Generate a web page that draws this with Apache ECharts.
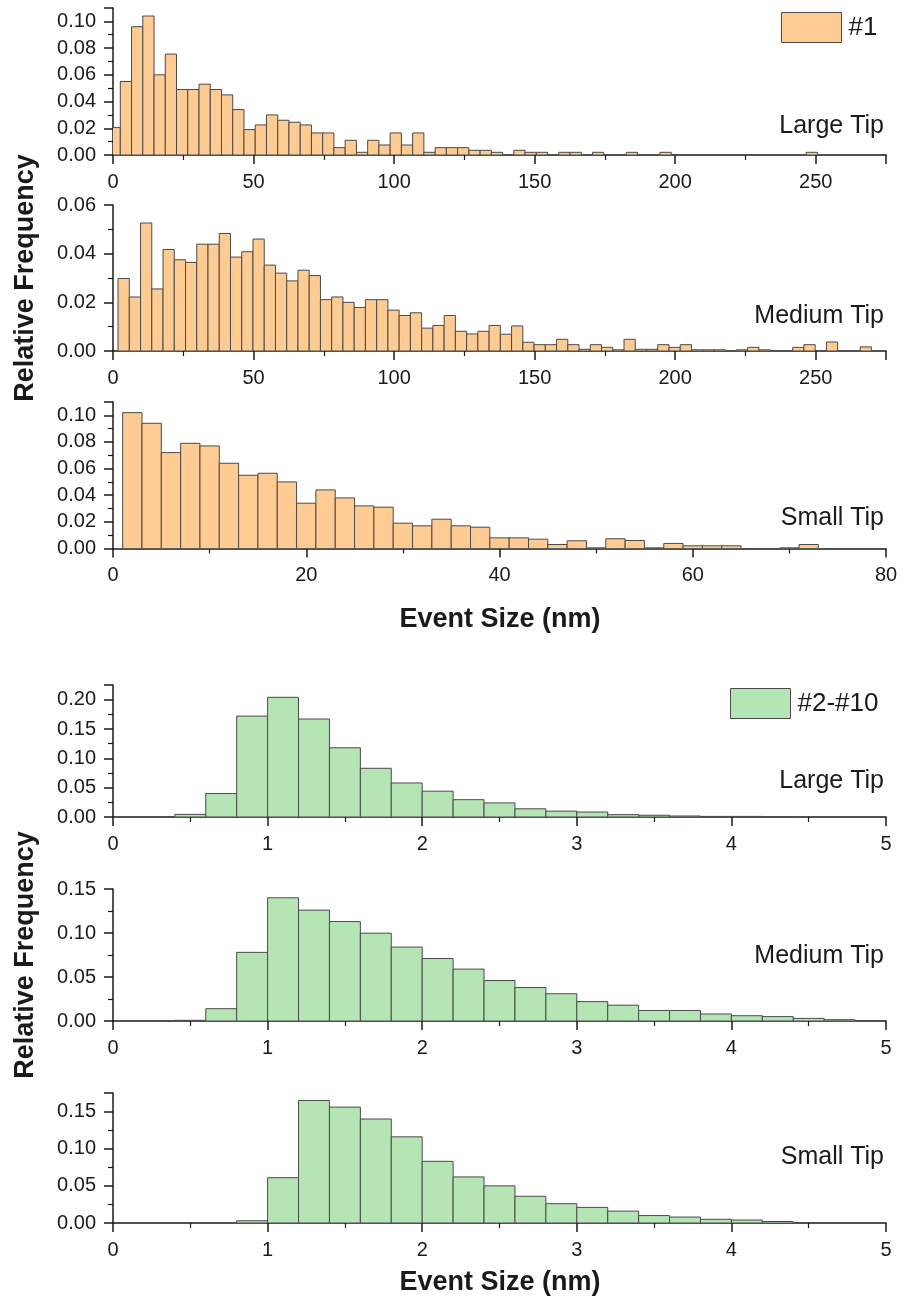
<!DOCTYPE html>
<html>
<head>
<meta charset="utf-8">
<script src="https://cdn.jsdelivr.net/npm/echarts@6/dist/echarts.min.js"></script>
<style>
  html, body { margin: 0; padding: 0; background: #fff; }
  #chart { width: 903px; height: 1310px; }
</style>
</head>
<body>
<div id="chart"></div>
<script>
// ---- Sample #1: relative frequency per event-size bin (nm) ----
const LARGE1_BIN = { start: -1.4, width: 4 };
const LARGE1_FREQ = [
  0.0205, 0.055, 0.096, 0.104, 0.060, 0.0755, 0.049, 0.049, 0.053, 0.049,
  0.045, 0.034, 0.019, 0.0225, 0.030, 0.026, 0.0245, 0.0225, 0.0165, 0.0165,
  0.0055, 0.011, 0.002, 0.011, 0.0075, 0.0165, 0.0075, 0.0165, 0.002, 0.0055,
  0.0055, 0.0055, 0.0035, 0.0035, 0.002, 0, 0.0035, 0.002, 0.002, 0,
  0.002, 0.002, 0, 0.002, 0, 0, 0.002, 0, 0, 0.002,
  0, 0, 0, 0, 0, 0, 0, 0, 0, 0,
  0, 0, 0.002
];

const MEDIUM1_BIN = { start: 1.8, width: 4 };
const MEDIUM1_FREQ = [
  0.0298, 0.0222, 0.0526, 0.0255, 0.0417, 0.0375, 0.0364, 0.0439, 0.0439, 0.0483,
  0.0386, 0.0408, 0.046, 0.0353, 0.032, 0.0288, 0.0332, 0.031, 0.0211, 0.0222,
  0.020, 0.0179, 0.0211, 0.0211, 0.0168, 0.0146, 0.0157, 0.0094, 0.0105, 0.0146,
  0.0081, 0.007, 0.0081, 0.0105, 0.0069, 0.0103, 0.0036, 0.0026, 0.0026, 0.0048,
  0.0026, 0.0007, 0.0026, 0.0015, 0.0005, 0.0048, 0.0007, 0.0007, 0.0026, 0.0015,
  0.0026, 0.0005, 0.0005, 0.0005, 0, 0.0005, 0.0015, 0.0005, 0, 0,
  0.0015, 0.0026, 0, 0.0037, 0, 0, 0.0017
];

const SMALL1_BIN = { start: 1, width: 2 };
const SMALL1_FREQ = [
  0.102, 0.094, 0.072, 0.079, 0.077, 0.064, 0.055, 0.0565, 0.050, 0.034,
  0.044, 0.038, 0.032, 0.031, 0.019, 0.017, 0.022, 0.017, 0.016, 0.008,
  0.008, 0.007, 0.003, 0.0058, 0.0005, 0.0073, 0.006, 0.0005, 0.0038, 0.002,
  0.002, 0.002, 0, 0, 0.0005, 0.003
];

// ---- Samples #2-#10 ----
const BIN_2_10 = { start: 0, width: 0.2 };
const LARGE2_FREQ = [
  0, 0, 0.0045, 0.040, 0.172, 0.204, 0.167, 0.118, 0.083, 0.058,
  0.044, 0.0295, 0.024, 0.014, 0.010, 0.0085, 0.004, 0.003, 0.0017, 0.001,
  0.001, 0.0005, 0, 0, 0
];
const MEDIUM2_FREQ = [
  0, 0, 0.0008, 0.014, 0.078, 0.140, 0.126, 0.113, 0.0998, 0.084,
  0.071, 0.059, 0.046, 0.038, 0.031, 0.022, 0.018, 0.012, 0.012, 0.008,
  0.006, 0.005, 0.003, 0.0015, 0.0005
];
const SMALL2_FREQ = [
  0, 0, 0, 0, 0.003, 0.061, 0.165, 0.156, 0.140, 0.116,
  0.083, 0.062, 0.050, 0.036, 0.026, 0.021, 0.016, 0.010, 0.008, 0.005,
  0.004, 0.002, 0.0005, 0, 0
];

const TIP_LABELS = ['Large Tip', 'Medium Tip', 'Small Tip'];
const GROUP_NAMES = ['#1', '#2-#10'];
const X_TITLE = 'Event Size (nm)';
const Y_TITLE = 'Relative Frequency';

// ---- Styling ----
const ORANGE = '#FECC93';
const GREEN = '#B5E5B4';
const EDGE = '#4a4a4a';
const INK = '#1a1a1a';
const FONT = '"Liberation Sans", Arial, sans-serif';

function toBins(bin, freq) {
  return freq.map((v, i) => [bin.start + i * bin.width, bin.start + (i + 1) * bin.width, v]);
}

const panels = [
  { bins: toBins(LARGE1_BIN, LARGE1_FREQ), name: GROUP_NAMES[0], color: ORANGE,
    top: 8, height: 147, x: [0, 275, 50], y: [0, 0.11, 0.02], tip: TIP_LABELS[0], tipY: 126 },
  { bins: toBins(MEDIUM1_BIN, MEDIUM1_FREQ), name: GROUP_NAMES[0], color: ORANGE,
    top: 205, height: 146, x: [0, 275, 50], y: [0, 0.06, 0.02], tip: TIP_LABELS[1], tipY: 316 },
  { bins: toBins(SMALL1_BIN, SMALL1_FREQ), name: GROUP_NAMES[0], color: ORANGE,
    top: 402, height: 146.5, x: [0, 80, 20], y: [0, 0.11, 0.02], tip: TIP_LABELS[2], tipY: 518 },
  { bins: toBins(BIN_2_10, LARGE2_FREQ), name: GROUP_NAMES[1], color: GREEN,
    top: 685, height: 132, x: [0, 5, 1], y: [0, 0.225, 0.05], tip: TIP_LABELS[0], tipY: 781 },
  { bins: toBins(BIN_2_10, MEDIUM2_FREQ), name: GROUP_NAMES[1], color: GREEN,
    top: 889, height: 132, x: [0, 5, 1], y: [0, 0.15, 0.05], tip: TIP_LABELS[1], tipY: 956 },
  { bins: toBins(BIN_2_10, SMALL2_FREQ), name: GROUP_NAMES[1], color: GREEN,
    top: 1093, height: 130, x: [0, 5, 1], y: [0, 0.175, 0.05], tip: TIP_LABELS[2], tipY: 1157 }
];

const axisLine = { show: true, lineStyle: { color: INK, width: 1.5 } };
const majorTick = { show: true, inside: false, length: 9, lineStyle: { color: INK, width: 1.5 } };
const minorTick = { show: true, splitNumber: 2, length: 5, lineStyle: { color: INK, width: 1.2 } };

const grid = [], xAxis = [], yAxis = [], series = [], graphic = [];

panels.forEach((p, i) => {
  grid.push({ left: 113, right: 17, top: p.top, height: p.height });
  xAxis.push({
    type: 'value', gridIndex: i, min: p.x[0], max: p.x[1], interval: p.x[2],
    axisLine, axisTick: majorTick, minorTick, splitLine: { show: false },
    axisLabel: {
      color: INK, fontSize: 20, fontFamily: FONT, margin: 17,
      showMaxLabel: p.x[1] % p.x[2] === 0
    }
  });
  const yExact = Math.abs(Math.round(p.y[1] / p.y[2]) * p.y[2] - p.y[1]) < 1e-9;
  yAxis.push({
    type: 'value', gridIndex: i, min: p.y[0], max: p.y[1], interval: p.y[2],
    axisLine, axisTick: majorTick, minorTick, splitLine: { show: false },
    axisLabel: {
      color: INK, fontSize: 20, fontFamily: FONT, margin: 17,
      showMaxLabel: yExact, formatter: v => v.toFixed(2)
    }
  });
  series.push({
    type: 'custom', name: p.name, xAxisIndex: i, yAxisIndex: i, clip: true,
    itemStyle: { color: p.color, borderColor: EDGE, borderWidth: 1 },
    encode: { x: [0, 1], y: 2 },
    data: p.bins,
    renderItem: function (params, api) {
      const v = api.value(2);
      if (!v) return null;
      const a = api.coord([api.value(0), v]);
      const b = api.coord([api.value(1), 0]);
      return {
        type: 'rect',
        shape: { x: a[0], y: a[1], width: b[0] - a[0], height: b[1] - a[1] },
        style: { fill: p.color, stroke: EDGE, lineWidth: 1 }
      };
    }
  });
  graphic.push({
    type: 'text', x: 884, y: p.tipY,
    style: { text: p.tip, fontSize: 25, fontFamily: FONT, fill: INK, align: 'right', verticalAlign: 'middle' }
  });
});

// Axis titles for both groups
[[278, 620], [955, 1283]].forEach(([yMid, xTitleY]) => {
  graphic.push({
    type: 'text', x: 26, y: yMid, rotation: Math.PI / 2,
    style: { text: Y_TITLE, fontSize: 27, fontWeight: 'bold', fontFamily: FONT, fill: INK, align: 'center', verticalAlign: 'middle' }
  });
  graphic.push({
    type: 'text', x: 500, y: xTitleY,
    style: { text: X_TITLE, fontSize: 27, fontWeight: 'bold', fontFamily: FONT, fill: INK, align: 'center', verticalAlign: 'middle' }
  });
});

const legendBase = {
  orient: 'horizontal', padding: 0, itemGap: 0, icon: 'rect',
  itemWidth: 60, itemHeight: 30,
  itemStyle: { borderColor: EDGE, borderWidth: 1 },
  textStyle: { fontSize: 26, fontFamily: FONT, color: INK, padding: [0, 0, 0, 2] }
};

const option = {
  backgroundColor: '#fff',
  animation: false,
  grid, xAxis, yAxis, series, graphic,
  legend: [
    Object.assign({}, legendBase, { data: [{ name: GROUP_NAMES[0], itemStyle: { color: ORANGE } }], left: 781, top: 12 }),
    Object.assign({}, legendBase, { data: [{ name: GROUP_NAMES[1], itemStyle: { color: GREEN } }], left: 730, top: 688 })
  ]
};

const chart = echarts.init(document.getElementById('chart'), null, { renderer: 'canvas' });
chart.setOption(option);
</script>
</body>
</html>
